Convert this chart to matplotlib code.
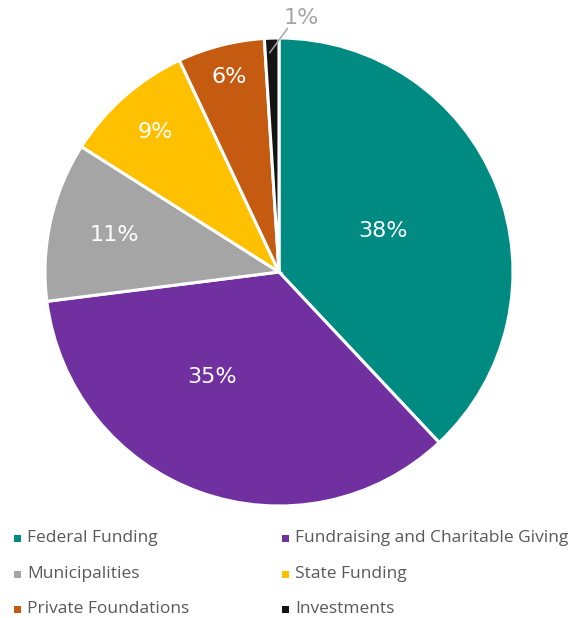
import matplotlib
matplotlib.use("Agg")
import matplotlib.pyplot as plt
from matplotlib.patches import Rectangle
import numpy as np

categories = ["Federal Funding", "Fundraising and Charitable Giving", "Municipalities",
              "State Funding", "Private Foundations", "Investments"]
values = [38, 35, 11, 9, 6, 1]
labels = ["38%", "35%", "11%", "9%", "6%", "1%"]
colors = ["#008B82", "#7030A0", "#A5A5A5", "#FFC000", "#C55A11", "#141414"]

plt.rcParams["font.family"] = ["DejaVu Sans"]

W, H = 580, 618
fig = plt.figure(figsize=(W / 100, H / 100), dpi=100)
cx, cy, R = 279, 272, 234
ax = fig.add_axes([(cx - R) / W, (H - cy - R) / H, 2 * R / W, 2 * R / H])

wedges, _ = ax.pie(values, colors=colors, startangle=90, counterclock=False, radius=1,
                   wedgeprops=dict(edgecolor="white", linewidth=2.2))
ax.set_xlim(-1, 1)
ax.set_ylim(-1, 1)
ax.set_aspect("equal")
ax.axis("off")

# label positions (radius fraction, angle override in degrees or None -> wedge middle)
label_r = [0.48, 0.53, 0.72, 0.80, 0.86]
label_ang = [None, -122.4, None, None, None]
for i, w in enumerate(wedges[:5]):
    ang = label_ang[i] if label_ang[i] is not None else (w.theta1 + w.theta2) / 2
    r = label_r[i]
    ax.text(r * np.cos(np.radians(ang)), r * np.sin(np.radians(ang)), labels[i],
            ha="center", va="center", color="white", fontsize=16)

# small slice label with leader line
w = wedges[5]
a0 = np.radians(w.theta2 - 0.3 * (w.theta2 - w.theta1))
ax.plot([0.936 * np.cos(a0), 0.038], [0.936 * np.sin(a0), 1.043],
        color="#A5A5A5", lw=1.1, clip_on=False, solid_capstyle="butt")
ax.text(0.094, 1.085, labels[5], ha="center", va="center", color="#A5A5A5",
        fontsize=16, clip_on=False)

# legend
legend_x = [17, 285]
legend_y = [538, 574, 609]
for i, (cat, col) in enumerate(zip(categories, colors)):
    x = legend_x[i % 2]
    y = legend_y[i // 2]
    s = 7
    fig.add_artist(Rectangle(((x - s / 2) / W, (H - y - s / 2) / H), s / W, s / H,
                             transform=fig.transFigure, facecolor=col, edgecolor="none"))
    fig.text((x + 10) / W, (H - y) / H, cat, ha="left", va="center",
             fontsize=12.5, color="#595959", family=["Open Sans"])

fig.savefig("out.png", dpi=100, facecolor="white")
